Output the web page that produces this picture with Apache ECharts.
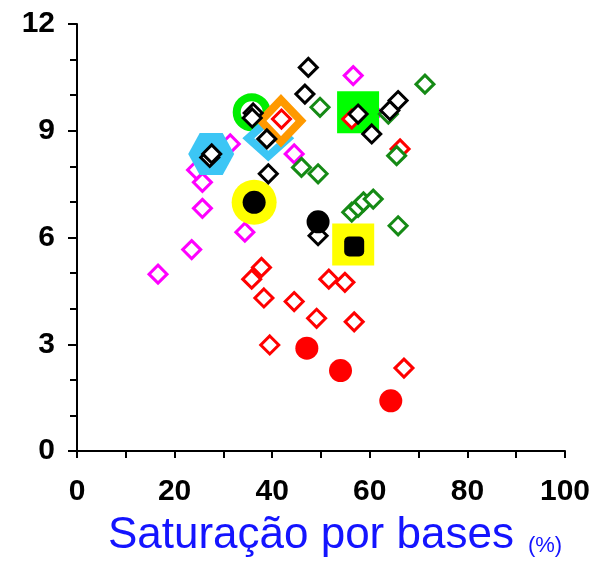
<!DOCTYPE html>
<html><head><meta charset="utf-8">
<script src="https://cdn.jsdelivr.net/npm/echarts@6/dist/echarts.min.js"></script>
<style>html,body{margin:0;padding:0;background:#fff}#c{width:606px;height:563px}</style>
</head><body><div id="c"></div>
<script>
// Data: [x = base saturation %, y = value]
const magentaDiamonds = [[16.6,4.97],[23.5,5.66],[34.4,6.15],[25.7,6.82],[25.7,7.55],[24.5,7.9],[31.4,8.63],[44.5,8.35],[56.6,10.55],[60.7,9.5]];
const redDiamonds = [[41.9,9.33],[56.3,9.33],[66.2,8.49],[37.8,5.16],[35.8,4.83],[38.3,4.3],[39.5,2.98],[44.5,4.2],[49.1,3.73],[51.6,4.83],[54.9,4.74],[56.8,3.63],[67.0,2.33]];
const greenDiamonds = [[49.8,9.66],[71.3,10.31],[63.8,9.47],[65.5,8.3],[46.0,7.97],[49.4,7.79],[56.3,6.71],[57.6,6.85],[58.7,7.0],[60.7,7.08],[65.8,6.33]];
const blackDiamonds = [[27.2,8.25],[27.6,8.35],[36.1,9.5],[35.9,9.36],[38.9,8.77],[39.2,7.79],[47.4,10.78],[46.7,10.03],[57.6,9.47],[60.4,8.91],[65.8,9.85],[64.1,9.57],[49.4,6.05]];
const redCircles = [[47.1,2.89],[54.0,2.26],[64.3,1.41]];
const blackCircles = [[36.3,6.99],[49.4,6.44]];
const blackSquares = [[56.8,5.75]];
// highlight markers
const cyanHexagon = [[27.5,8.35]];
const cyanDiamond = [[39.2,8.79]];
const greenRing = [[35.8,9.52]];
const orangeDiamond = [[41.8,9.28]];
const yellowCircle = [[36.3,6.99]];
const yellowSquare = [[56.6,5.8]];
const greenSquare = [[57.6,9.52]];

const xTicks = [0,20,40,60,80,100];
const yTicks = [0,3,6,9,12];

const chart = echarts.init(document.getElementById('c'), null, {renderer:'canvas'});
const hollow = (name, data, color, z) => ({
  name, type:'scatter', data, symbol:'diamond', symbolSize:18, z,
  itemStyle:{color:'#ffffff', borderColor:color, borderWidth:3, opacity:1}
});
const labelFont = {fontFamily:'Liberation Sans, Arial, sans-serif', fontWeight:'bold', fontSize:30, color:'#000'};
chart.setOption({
  animation:false,
  backgroundColor:'#fff',
  grid:{left:77, right:41, top:24, bottom:111, containLabel:false},
  xAxis:{
    type:'value', min:0, max:100, interval:10,
    axisLine:{lineStyle:{color:'#000', width:2}},
    axisTick:{length:7, lineStyle:{color:'#000', width:2}},
    splitLine:{show:false},
    axisLabel:Object.assign({margin:26, formatter:v => xTicks.includes(v) ? String(v) : ''}, labelFont),
    name:'{a|Saturação por bases}{b|(%)}',
    nameLocation:'middle', nameGap:63,
    nameTextStyle:{padding:[0,0,0,28], rich:{
      a:{fontFamily:'Liberation Sans, Arial, sans-serif', fontSize:44, color:'#1414ff'},
      b:{fontFamily:'Liberation Sans, Arial, sans-serif', fontSize:22, color:'#1414ff', padding:[20,0,0,14]}
    }}
  },
  yAxis:{
    type:'value', min:0, max:12, interval:3,
    axisLine:{show:true, lineStyle:{color:'#000', width:2}},
    axisTick:{show:true, length:9, lineStyle:{color:'#000', width:2}},
    minorTick:{show:true, splitNumber:3, length:7, lineStyle:{color:'#000', width:2}},
    splitLine:{show:false},
    axisLabel:Object.assign({margin:22, formatter:v => yTicks.includes(v) ? String(v) : ''}, labelFont)
  },
  series:[
    hollow('magenta', magentaDiamonds, '#ff00ff', 2),
    {name:'hex', type:'scatter', data:cyanHexagon, z:3,
      symbol:'path://M0,10 L5,0 L15,0 L20,10 L15,20 L5,20 Z', symbolSize:[46,42],
      itemStyle:{color:'#3cc6f5', opacity:1}},
    {name:'ring', type:'scatter', data:greenRing, z:3, symbol:'circle', symbolSize:30,
      itemStyle:{color:'rgba(255,255,255,0)', borderColor:'#00ee00', borderWidth:8, opacity:1}},
    {name:'cyanD', type:'scatter', data:cyanDiamond, z:3, symbol:'diamond', symbolSize:[40,36],
      itemStyle:{color:'#ffffff', borderColor:'#3cc6f5', borderWidth:8, opacity:1}},
    {name:'orangeD', type:'scatter', data:orangeDiamond, z:3, symbol:'diamond', symbolSize:[40,42],
      itemStyle:{color:'#ffffff', borderColor:'#ff9900', borderWidth:8, opacity:1}},
    {name:'yC', type:'scatter', data:yellowCircle, z:3, symbol:'circle', symbolSize:45,
      itemStyle:{color:'#ffff00', opacity:1}},
    {name:'yS', type:'scatter', data:yellowSquare, z:3, symbol:'rect', symbolSize:42,
      itemStyle:{color:'#ffff00', opacity:1}},
    {name:'gS', type:'scatter', data:greenSquare, z:3, symbol:'rect', symbolSize:42,
      itemStyle:{color:'#00ff00', opacity:1}},
    hollow('red', redDiamonds, '#ff0000', 4),
    hollow('green', greenDiamonds, '#158a15', 4),
    hollow('black', blackDiamonds, '#000000', 5),
    {name:'redC', type:'scatter', data:redCircles, z:6, symbol:'circle', symbolSize:23,
      itemStyle:{color:'#ff0000', opacity:1}},
    {name:'blackC', type:'scatter', data:blackCircles, z:6, symbol:'circle', symbolSize:23,
      itemStyle:{color:'#000000', opacity:1}},
    {name:'blackS', type:'scatter', data:blackSquares, z:6, symbol:'roundRect', symbolSize:20,
      itemStyle:{color:'#000000', opacity:1}}
  ]
});
</script></body></html>
